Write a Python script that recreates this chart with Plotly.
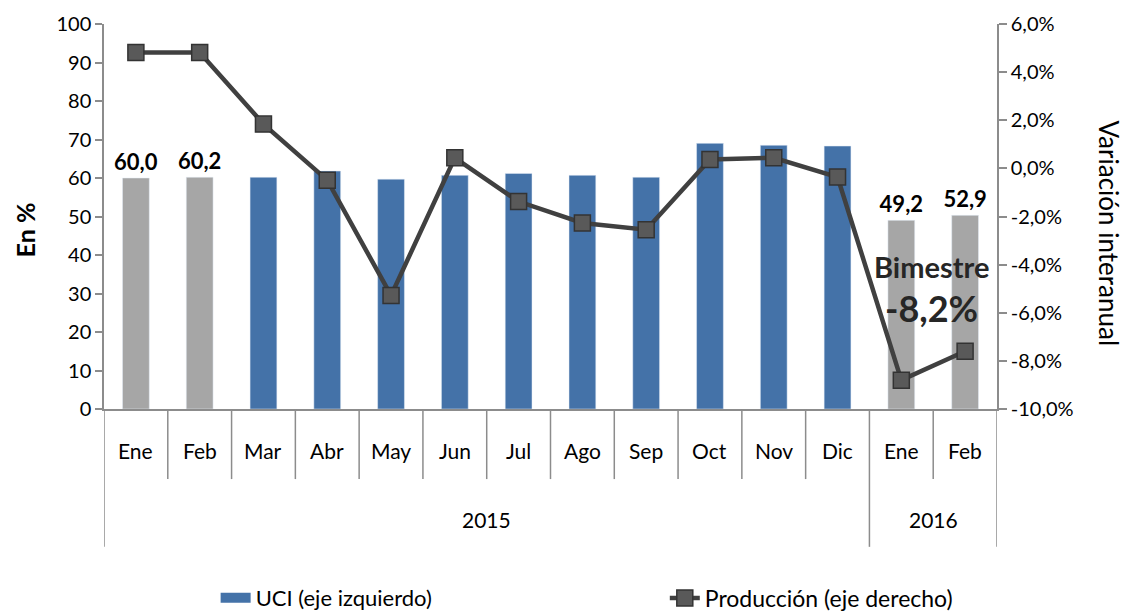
import plotly.graph_objects as go

months = ["Ene", "Feb", "Mar", "Abr", "May", "Jun", "Jul", "Ago", "Sep", "Oct", "Nov", "Dic", "Ene", "Feb"]
years = ["2015"] * 12 + ["2016"] * 2
uci = [60.0, 60.2, 60.2, 61.8, 59.7, 60.7, 61.2, 60.7, 60.2, 69.0, 68.5, 68.3, 49.0, 50.3]
bimestre = [True, True] + [False] * 10 + [True, True]
uci_labels = ["60,0", "60,2", "", "", "", "", "", "", "", "", "", "", "49,2", "52,9"]
produccion = [4.82, 4.82, 1.84, -0.49, -5.28, 0.44, -1.38, -2.27, -2.55, 0.37, 0.44, -0.36, -8.8, -7.6]
prod_ticks = [-10, -8, -6, -4, -2, 0, 2, 4, 6]
prod_tick_labels = ["-10,0%", "-8,0%", "-6,0%", "-4,0%", "-2,0%", "0,0%", "2,0%", "4,0%", "6,0%"]

FONT = "Lato, Open Sans, sans-serif"
BLUE = "#4472A8"
GRAY = "#A6A6A6"
AXIS = "#8C8C8C"

keys = [f"{m} {y}" for m, y in zip(months, years)]
blue_vals = [None if b else v for v, b in zip(uci, bimestre)]
gray_vals = [v if b else None for v, b in zip(uci, bimestre)]
gray_text = [f"<b>{t}</b>" if t else "" for t in uci_labels]

fig = go.Figure()
fig.add_trace(go.Bar(x=keys, y=blue_vals, name="UCI (eje izquierdo)", marker_color=BLUE,
                     width=0.42, yaxis="y", showlegend=False))
fig.add_trace(go.Bar(x=keys, y=gray_vals, name="UCI bimestre", marker_color=GRAY, width=0.42,
                     showlegend=False, text=gray_text, textposition="outside", cliponaxis=False,
                     constraintext="none",
                     textfont=dict(family=FONT, size=22, color="#000000"), yaxis="y"))
# legend entry for the UCI bars (wide rectangle like the original legend key)
fig.add_trace(go.Scatter(x=[keys[0]], y=[None], name="UCI (eje izquierdo)", mode="lines",
                         line=dict(color=BLUE, width=11), legend="legend", hoverinfo="skip"))
fig.add_trace(go.Scatter(x=keys, y=produccion, name="Producción (eje derecho)", yaxis="y2",
                         mode="lines+markers", legend="legend2",
                         line=dict(color="#404040", width=4.5),
                         marker=dict(symbol="square", size=16, color="#595959",
                                     line=dict(color="#333333", width=1.5))))

# month / year labels and separators of the two-level category axis
annotations = []
shapes = []
for i, m in enumerate(months):
    annotations.append(dict(text=m, x=keys[i], xref="x", y=-0.108, yref="paper",
                            xanchor="center", yanchor="middle",
                            showarrow=False, font=dict(family=FONT, size=21, color="#000000")))
year_names = []
for y in years:
    if y not in year_names:
        year_names.append(y)
for yname in year_names:
    idx = [i for i, y in enumerate(years) if y == yname]
    annotations.append(dict(text=yname, x=(idx[0] + idx[-1]) / 2, xref="x", y=-0.288, yref="paper",
                            xanchor="center", yanchor="middle",
                            showarrow=False, font=dict(family=FONT, size=21, color="#000000")))
    shapes.append(dict(type="line", xref="x", yref="paper", x0=idx[0] - 0.5, x1=idx[0] - 0.5,
                       y0=0, y1=-0.358, line=dict(color=AXIS, width=1.5)))
    for i in idx[:-1]:
        shapes.append(dict(type="line", xref="x", yref="paper", x0=i + 0.5, x1=i + 0.5,
                           y0=0, y1=-0.182, line=dict(color=AXIS, width=1.5)))
shapes.append(dict(type="line", xref="x", yref="paper", x0=len(keys) - 0.5, x1=len(keys) - 0.5,
                   y0=0, y1=-0.358, line=dict(color=AXIS, width=1.5)))

annotations += [
    dict(text="<b>En %</b>", xref="paper", yref="paper", x=-0.088, y=0.465, textangle=-90,
         xanchor="center", yanchor="middle",
         showarrow=False, font=dict(family=FONT, size=25, color="#000000")),
    dict(text="Variación interanual", xref="paper", yref="paper", x=1.125, y=0.457,
         xanchor="center", yanchor="middle",
         textangle=90, showarrow=False, font=dict(family=FONT, size=26, color="#000000")),
    dict(text="<b>Bimestre</b>", xref="paper", yref="paper", x=0.927, y=0.371,
         xanchor="center", yanchor="middle",
         showarrow=False, font=dict(family=FONT, size=29, color="#262626")),
    dict(text="<b>-8,2%</b>", xref="paper", yref="paper", x=0.927, y=0.262,
         xanchor="center", yanchor="middle",
         showarrow=False, font=dict(family=FONT, size=36, color="#262626")),
]

fig.update_layout(
    width=1121, height=607,
    margin=dict(l=96, r=132, t=16, b=206, autoexpand=False),
    paper_bgcolor="white", plot_bgcolor="white",
    barmode="overlay",
    font=dict(family=FONT, size=20, color="#000000"),
    showlegend=True,
    legend=dict(x=0.125, y=-0.491, xanchor="left", yanchor="middle", bgcolor="rgba(0,0,0,0)",
                font=dict(family=FONT, size=22)),
    legend2=dict(x=0.628, y=-0.491, xanchor="left", yanchor="middle", bgcolor="rgba(0,0,0,0)",
                 font=dict(family=FONT, size=23)),
    xaxis=dict(type="category", range=[-0.5, len(keys) - 0.5], showline=True, linecolor=AXIS,
               linewidth=1.5, ticks="", showticklabels=False, showgrid=False, automargin=False),
    yaxis=dict(range=[0, 100], dtick=10, showline=True, linecolor=AXIS, linewidth=1.5,
               ticks="outside", ticklen=7, tickcolor=AXIS, tickwidth=1.5, showgrid=False,
               zeroline=False, automargin=False, tickfont=dict(family=FONT, size=20)),
    yaxis2=dict(range=[-10, 6], tickmode="array", tickvals=prod_ticks, ticktext=prod_tick_labels,
                overlaying="y", side="right", showline=True,
                linecolor=AXIS, linewidth=1.5, ticks="outside", ticklen=8, tickcolor=AXIS,
                tickwidth=1.5, showgrid=False, zeroline=False,
                automargin=False, tickfont=dict(family=FONT, size=20)),
    annotations=annotations,
    shapes=shapes,
)

fig.write_html("out.html")
